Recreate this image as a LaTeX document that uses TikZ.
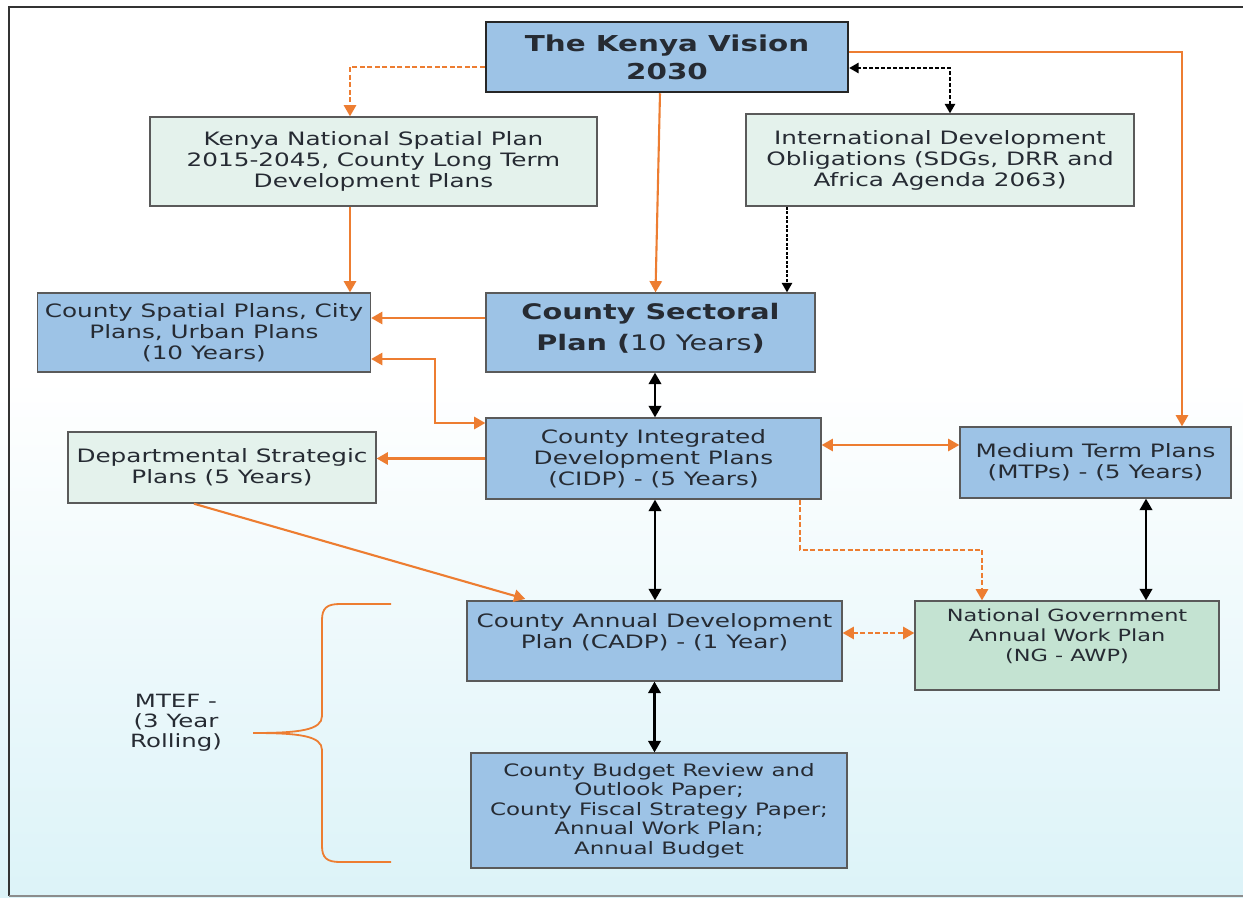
\documentclass[tikz,border=0pt]{standalone}
\usepackage{fontspec}
\setmainfont{DejaVu Sans}[FakeStretch=1.34]
\usepackage{tikz}
\usetikzlibrary{shapes,arrows}
\usetikzlibrary{positioning,fit,calc}

\definecolor{boxBlue}{HTML}{9DC3E6}
\definecolor{mintPale}{HTML}{E4F2EC}
\definecolor{mintGreen}{HTML}{C4E3D2}
\definecolor{boxEdge}{HTML}{5A5A5A}
\definecolor{lineOrange}{HTML}{ED7D31}
\definecolor{textDark}{HTML}{262B33}
\definecolor{bgCyan}{HTML}{DCF3F8}

\begin{document}
\begin{tikzpicture}[x=1bp,y=-1bp,every text node part/.style={align=center}]
\tikzset{myFont/.style={font=\fontsize{18.5}{21}\selectfont}}
\tikzset{myBox/.style={draw=boxEdge,line width=1.5bp,inner sep=0pt,text=textDark,myFont}}
\tikzset{myBlue/.style={fill=boxBlue}}
\tikzset{myMint/.style={fill=mintPale}}
\tikzset{myOrange/.style={draw=lineOrange,line width=2.1bp,-triangle 60}}
\tikzset{myBlack/.style={draw=black,line width=2.2bp,triangle 60-triangle 60}}
\tikzset{myDash/.style={dash pattern=on 5bp off 2.5bp}}

% background and frame
\useasboundingbox (0,0) rectangle (1243,898);
\fill[white] (0,0) rectangle (1243,898);
\shade[top color=white,bottom color=bgCyan] (0,380) rectangle (1243,898);
\draw[black!80,line width=1.5bp] (1243,7) -- (9,7) -- (9,896);
\draw[black!45,line width=1.5bp] (9,896) -- (1243,896);

% boxes
\node[myBox,myBlue,draw=black!85,line width=2.5bp,minimum width=362bp,minimum height=70bp,font=\bfseries\fontsize{22}{28}\selectfont] (vision) at (667,57) {The Kenya Vision\\2030};
\node[myBox,myMint,minimum width=447bp,minimum height=89bp] (knsp) at (373.5,161.5) {Kenya National Spatial Plan\\2015-2045, County Long Term\\Development Plans};
\node[myBox,myMint,minimum width=388bp,minimum height=92bp] (ido) at (940,160) {International Development\\Obligations (SDGs, DRR and\\Africa Agenda 2063)};
\node[myBox,myBlue,minimum width=333bp,minimum height=79bp] (csp) at (204,332.5) {County Spatial Plans, City\\Plans, Urban Plans\\(10 Years)};
\node[myBox,myBlue,minimum width=329bp,minimum height=79bp,font=\fontsize{21.5}{31}\selectfont] (sector) at (650.5,332.5) {\textbf{County Sectoral}\\\textbf{Plan (}10 Years\textbf{)}\\[-19bp]\mbox{}};
\node[myBox,myBlue,minimum width=335bp,minimum height=81bp] (cidp) at (653.5,458.5) {County Integrated\\Development Plans\\(CIDP) - (5 Years)};
\node[myBox,myMint,minimum width=308bp,minimum height=71bp] (dsp) at (222,467.5) {Departmental Strategic\\Plans (5 Years)};
\node[myBox,myBlue,minimum width=271bp,minimum height=71bp] (mtp) at (1095.5,462.5) {Medium Term Plans\\(MTPs) - (5 Years)};
\node[myBox,myBlue,minimum width=375bp,minimum height=80bp] (cadp) at (654.5,641) {County Annual Development\\Plan (CADP) - (1 Year)\\\mbox{}};
\node[myBox,fill=mintGreen,minimum width=304bp,minimum height=89bp,font=\fontsize{16.8}{20}\selectfont] (ngawp) at (1067,645.5) {National Government\\Annual Work Plan\\(NG - AWP)\\\mbox{}};
\node[myBox,myBlue,minimum width=376bp,minimum height=115bp,font=\fontsize{17.2}{19.5}\selectfont] (cbrop) at (659,810.5) {County Budget Review and\\Outlook Paper;\\County Fiscal Strategy Paper;\\Annual Work Plan;\\Annual Budget};
\node[myFont,align=left,text=textDark,font=\fontsize{18.3}{20}\selectfont] (mtef) at (176,723) {MTEF -\\(3 Year\\Rolling)};

% brace
\draw[lineOrange,line width=1.8bp] (391,604) -- (340,604) .. controls (327,604) and (322,608) .. (322,620) -- (322,716)
  .. controls (322,730) and (300,733) .. (253,733) .. controls (300,733) and (322,736) .. (322,750) -- (322,846)
  .. controls (322,858) and (327,862) .. (340,862) -- (391,862);

% connectors
\path[myOrange,myDash] ([yshift=-10bp]vision.west) -| ([xshift=-23.5bp]knsp.north);
\path[myOrange] ([xshift=-7bp]vision.south) -- ([xshift=5bp]sector.north);
\path[myBlack,line width=1.6bp,dash pattern=on 4bp off 2bp] ([yshift=-11bp]vision.east) -| ([xshift=10bp]ido.north);
\path[myOrange] ([yshift=5bp]vision.east) -| ([xshift=86.5bp]mtp.north);
\path[myOrange] ([xshift=-23.5bp]knsp.south) -- ([xshift=-23.5bp]knsp.south |- csp.north);
\path[myBlack,-triangle 60,line width=1.6bp,dash pattern=on 3bp off 1.5bp] ([xshift=-153bp]ido.south) -- ([xshift=-153bp]ido.south |- sector.north);
\path[myOrange] ([yshift=14.5bp]sector.west) -- ([yshift=14.5bp]sector.west -| csp.east);
\path[myOrange,triangle 60-triangle 60] ([yshift=-26.5bp]csp.east) -- ++(64,0) |- ([yshift=35.5bp]cidp.west);
\path[myBlack] ([xshift=4.5bp]sector.south) -- ([xshift=4.5bp]sector.south |- cidp.north);
\path[myOrange] (cidp.west) -- (cidp.west -| dsp.east);
\path[myOrange,triangle 60-triangle 60] ([yshift=13.5bp]cidp.east) -- ([yshift=13.5bp]cidp.east -| mtp.west);
\path[myBlack] ([xshift=1.5bp]cidp.south) -- ([xshift=1.5bp]cidp.south |- cadp.north);
\path[myOrange,myDash] ([xshift=146.5bp]cidp.south) -- ++(0,50) -| ([xshift=-85bp]ngawp.north);
\path[myBlack] ([xshift=50.5bp]mtp.south) -- ([xshift=50.5bp]mtp.south |- ngawp.north);
\path[myOrange,myDash,triangle 60-triangle 60] ([yshift=8bp]cadp.east) -- ([yshift=8bp]cadp.east -| ngawp.west);
\path[myBlack] (cadp.south) -- (cadp.south |- cbrop.north);
\path[myOrange,shorten >=5bp] ([xshift=-28bp]dsp.south) -- ([xshift=-124.5bp]cadp.north);
\end{tikzpicture}
\end{document}
